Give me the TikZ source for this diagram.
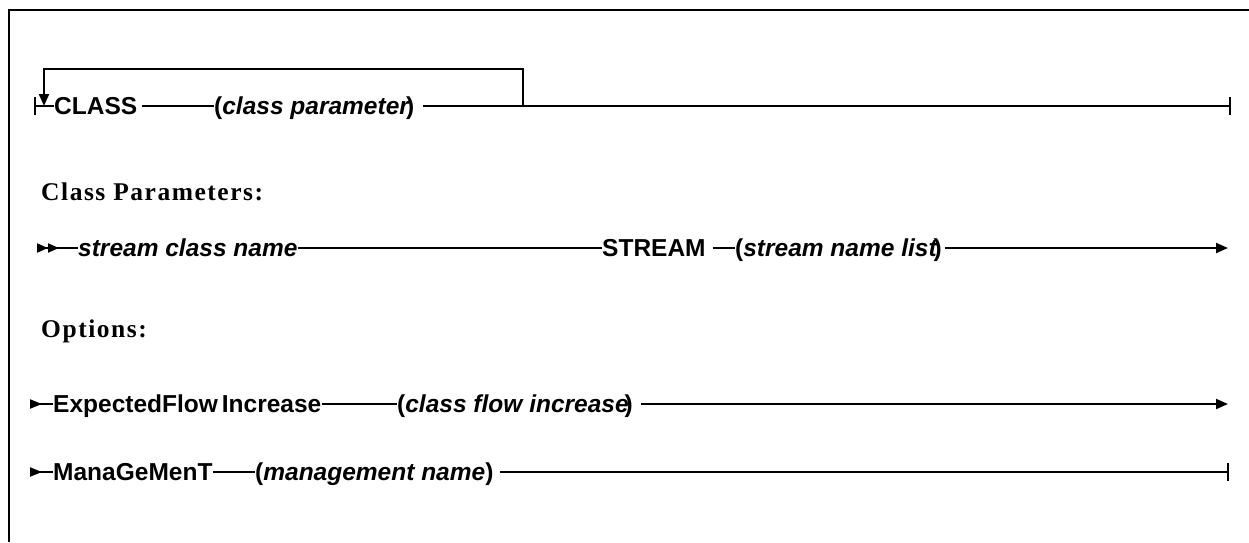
\documentclass[tikz,border=0pt]{standalone}
\usepackage{fontspec}
\setmainfont{Liberation Serif}
\setsansfont{Liberation Sans}
\newfontfamily\headfont{Liberation Serif}[LetterSpace=6]
\usetikzlibrary{arrows.meta}

\begin{document}
\begin{tikzpicture}[x=1pt,y=-1pt,
  every node/.style={inner sep=0pt,anchor=west},
  lbl/.style={font=\sffamily\bfseries\fontsize{24.5}{29}\selectfont,
              text height=17.5pt,text depth=0pt},
  head/.style={font=\headfont\bfseries\fontsize{25.5}{30}\selectfont,anchor=base west},
  rail/.style={line width=2pt},
  frame/.style={line width=2.5pt},
  tipend/.style={-{Triangle[length=12pt,width=10pt]}},
  barend/.style={-{Bar[width=18pt,line width=2pt]}},
  barstart/.style={{Bar[width=18pt,line width=2pt]}-},
  onestart/.style={{Triangle[reversed,length=12pt,width=9pt]}-},
  twostart/.style={{Triangle[reversed,length=11pt,width=9pt,sep=5pt]Triangle[reversed,length=11pt,width=9pt]}-},
]
\useasboundingbox (0,0) rectangle (1249,542);

% partial frame: top and left edges
\draw[frame] (9,542) -- (9,10) -- (1249,10);

% ---- CLASS statement with repeat loop
\coordinate (s1) at (34,106);
\coordinate (loopin) at (44,106);
\coordinate (loopout) at (523,106);
\coordinate (e1) at (1231,106);
\node[lbl] (class) at (54,106) {CLASS};
\node[lbl] (cparam) at (214,106) {(\textit{class parameter}\kern-4pt)};
\draw[rail,barstart] (s1) -- (class.west);
\draw[rail] ([xshift=5pt]class.east) -- (cparam.west);
\draw[rail] ([xshift=9pt]cparam.east) -- (loopout);
\draw[rail,barend] (loopout) -- (e1);
\draw[rail,tipend] (loopout) -- ++(0,-37) -| (loopin);

% ---- headings
\node[head] (hclass) at (41,200) {Class Parameters:};
\node[head] (hopt) at (41,337) {Options:};

% ---- stream class row
\coordinate (s2) at (32,248);
\coordinate (e2) at (1228,248);
\node[lbl] (sname) at (78,248) {\textit{stream class name}};
\node[lbl] (stream) at (602,248) {STREAM};
\node[lbl] (slist) at (735,248) {(\textit{stream name list}\kern-4pt)};
\draw[rail,twostart] (s2) -- (sname.west);
\draw[rail] (sname.east) -- (stream.west);
\draw[rail] ([xshift=7pt]stream.east) -- (slist.west);
\draw[rail,tipend] ([xshift=3pt]slist.east) -- (e2);

% ---- ExpectedFlowIncrease row
\coordinate (s3) at (30,404);
\coordinate (e3) at (1228,404);
\node[lbl] (efi) at (53,404) {ExpectedFlow\kern4pt Increase};
\node[lbl] (cfi) at (397,404) {(\textit{class flow increase}\kern-4pt)};
\draw[rail,onestart] (s3) -- (efi.west);
\draw[rail] (efi.east) -- (cfi.west);
\draw[rail,tipend] ([xshift=8pt]cfi.east) -- (e3);

% ---- ManaGeMenT row
\coordinate (s4) at (30,472);
\coordinate (e4) at (1229,472);
\node[lbl] (mgmt) at (53,472) {ManaGeMenT};
\node[lbl] (mname) at (255,472) {(\textit{management name})};
\draw[rail,onestart] (s4) -- (mgmt.west);
\draw[rail] (mgmt.east) -- (mname.west);
\draw[rail,barend] ([xshift=6pt]mname.east) -- (e4);
\end{tikzpicture}
\end{document}
